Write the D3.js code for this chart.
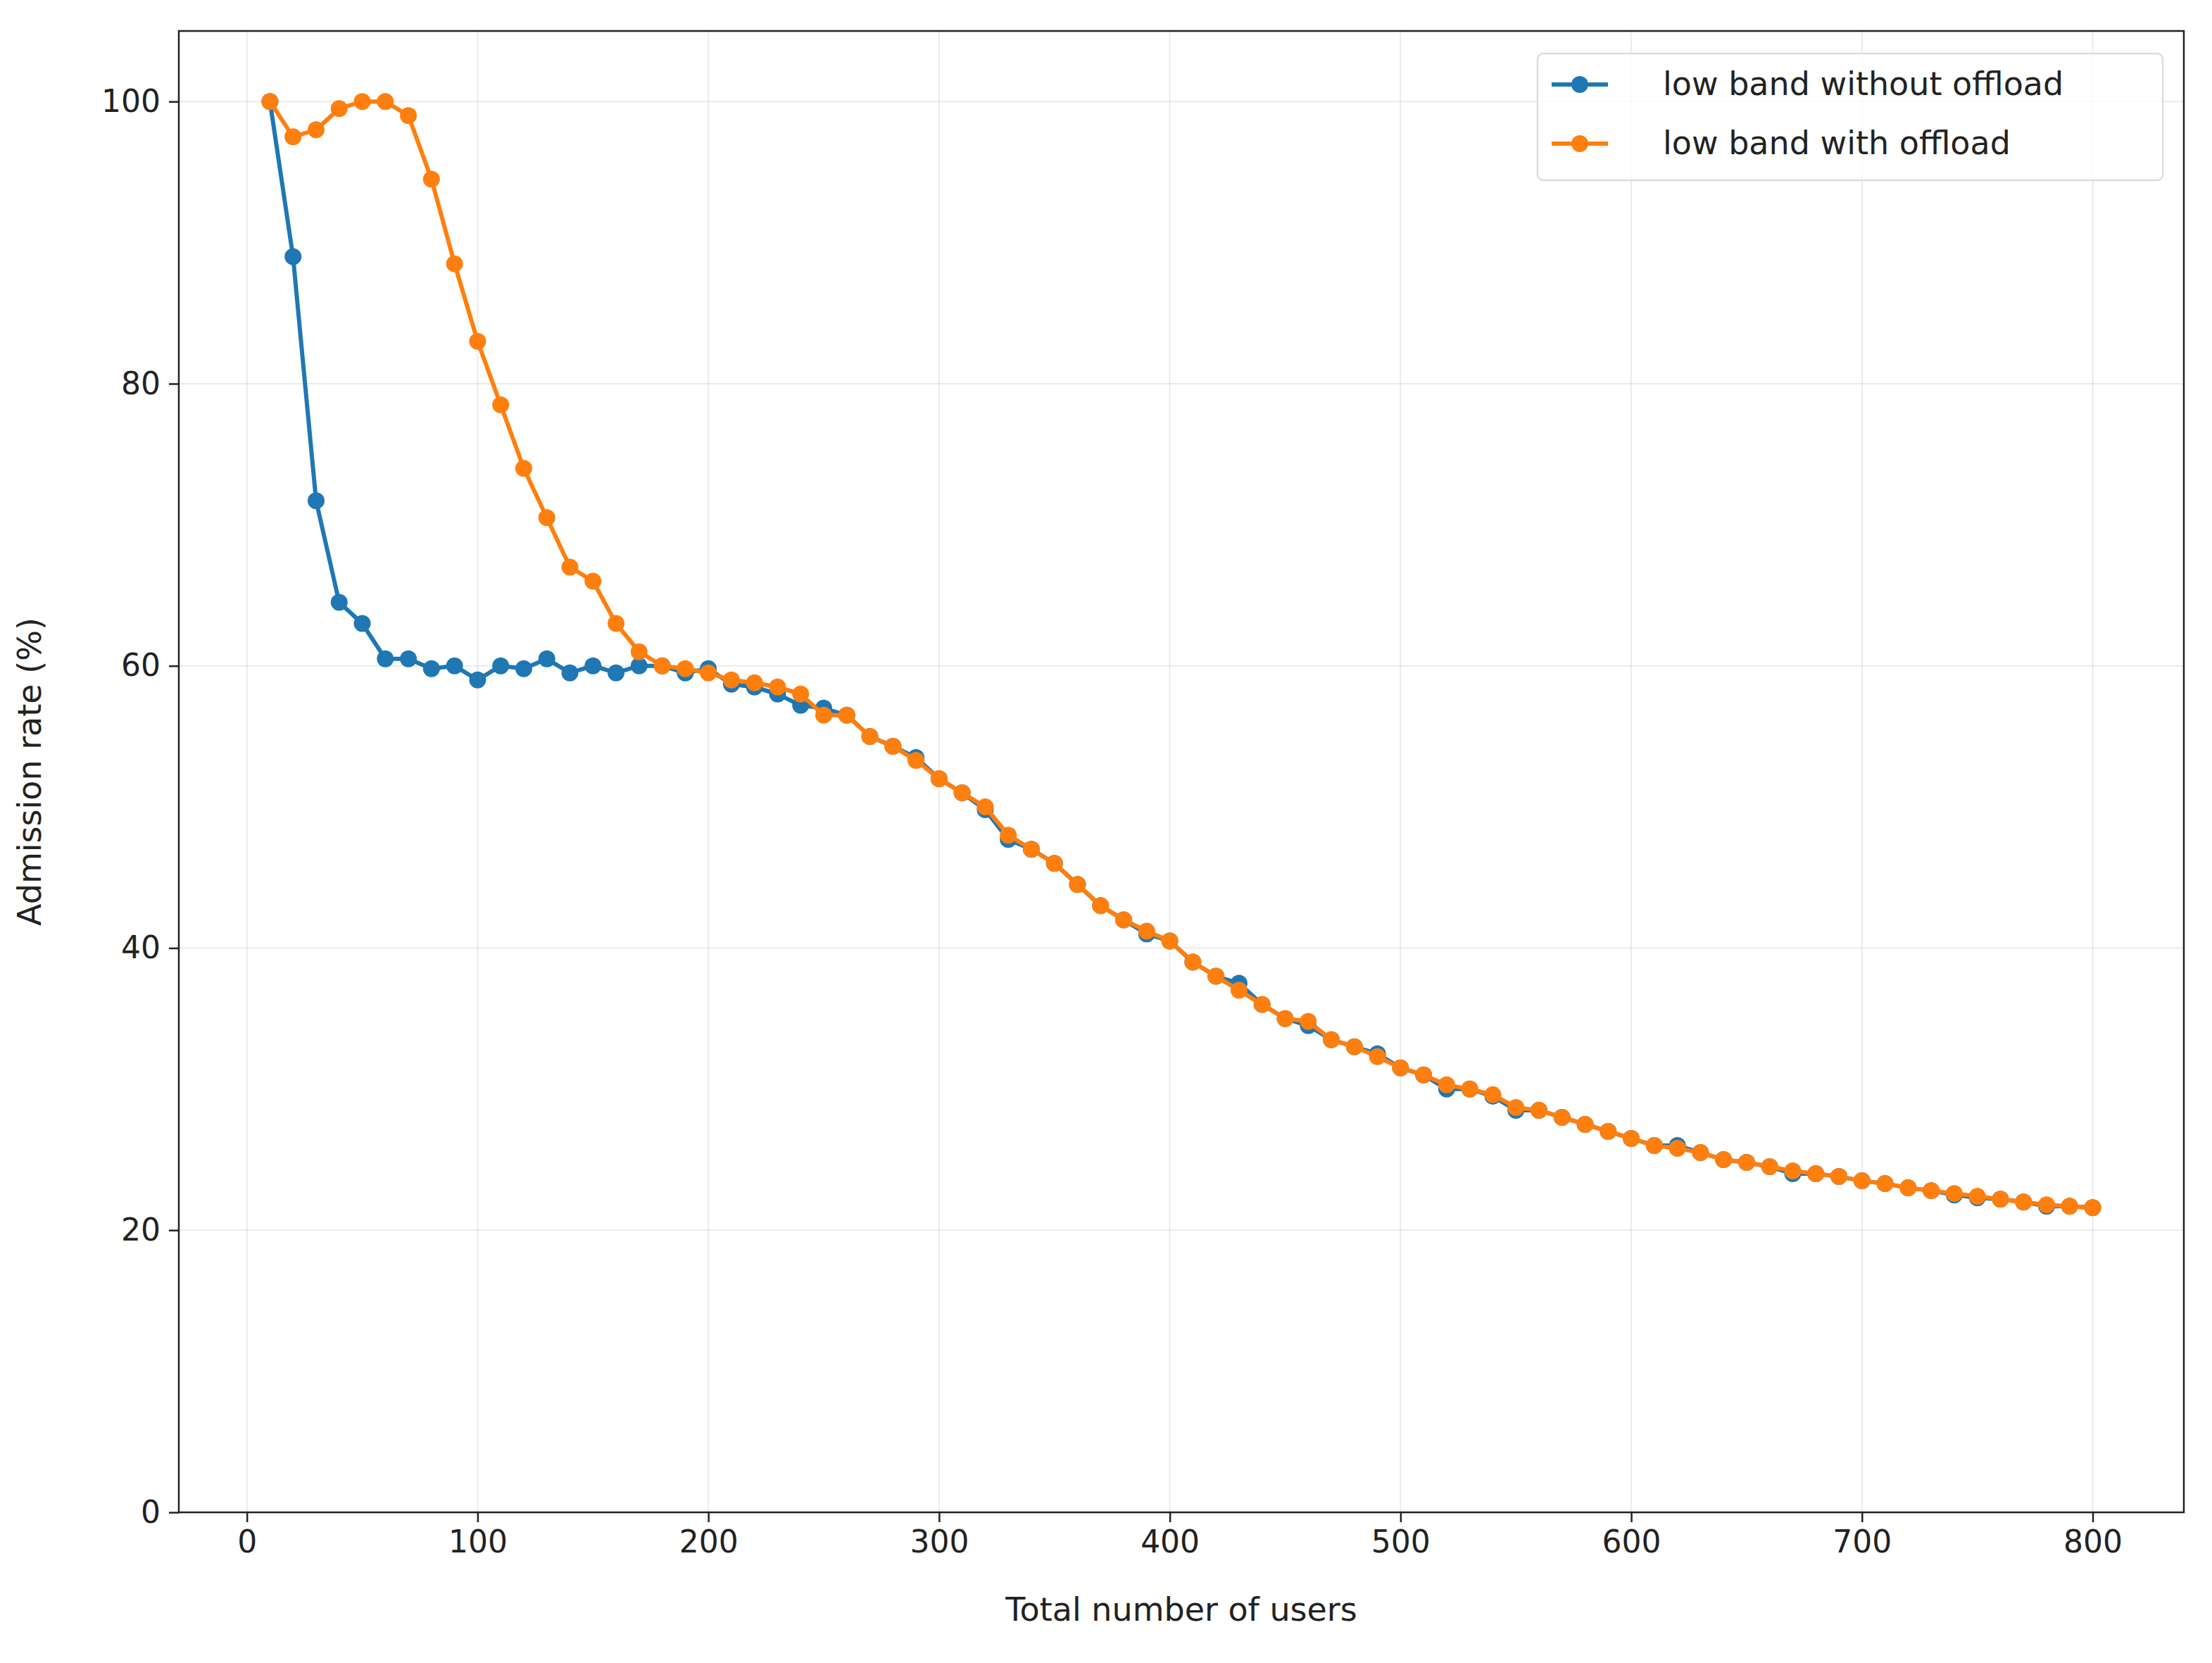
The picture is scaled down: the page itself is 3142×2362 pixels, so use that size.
<!DOCTYPE html>
<html><head><meta charset="utf-8">
<script src="https://cdn.jsdelivr.net/npm/d3@7"></script>
<style>body{margin:0;background:#fff}text{font-family:"DejaVu Sans",sans-serif;fill:#222}</style>
</head><body><div id="vis1" style="width:3142px;height:2362px"></div>
<script>
// data
const users = d3.range(10, 801, 10);
const withoutOffload = [100,89,71.7,64.5,63,60.5,60.5,59.8,60,59,60,59.8,60.5,59.5,60,59.5,60,60,59.5,59.8,
  58.7,58.5,58,57.2,57,56.5,55,54.3,53.5,52,51,49.8,47.7,47,46,44.5,43,42,41,40.5,
  39,38,37.5,36,35,34.5,33.5,33,32.5,31.5,31,30,30,29.5,28.5,28.5,28,27.5,27,26.5,
  26,26,25.5,25,24.8,24.5,24,24,23.8,23.5,23.3,23,22.8,22.5,22.3,22.2,22,21.7,21.7,21.6];
const withOffload = [100,97.5,98,99.5,100,100,99,94.5,88.5,83,78.5,74,70.5,67,66,63,61,60,59.8,59.5,
  59,58.8,58.5,58,56.5,56.5,55,54.3,53.3,52,51,50,48,47,46,44.5,43,42,41.2,40.5,
  39,38,37,36,35,34.8,33.5,33,32.3,31.5,31,30.3,30,29.6,28.7,28.5,28,27.5,27,26.5,
  26,25.8,25.5,25,24.8,24.5,24.2,24,23.8,23.5,23.3,23,22.8,22.6,22.4,22.2,22,21.8,21.7,21.6];
const xTicks = [0,100,200,300,400,500,600,700,800];
const yTicks = [0,20,40,60,80,100];
const seriesNames = ["low band without offload", "low band with offload"];
const colors = ["#1f77b4", "#ff7f0e"];

const margin = {top: 44, right: 40, bottom: 214, left: 254};
const WIDTH = 3142, HEIGHT = 2362;
const width = WIDTH - margin.left - margin.right;
const height = HEIGHT - margin.top - margin.bottom;

const svg = d3.select("#vis1").append("svg").attr("width", WIDTH).attr("height", HEIGHT);
const g = svg.append("g").attr("transform", `translate(${margin.left},${margin.top})`);

const x = d3.scaleLinear().domain([-29.5, 839.5]).range([0, width]);
const y = d3.scaleLinear().domain([0, 105]).range([height, 0]);

// grid
g.append("g").selectAll("line").data(xTicks).join("line")
  .attr("x1", d => x(d)).attr("x2", d => x(d)).attr("y1", 0).attr("y2", height)
  .attr("stroke", "#b0b0b0").attr("stroke-opacity", 0.25).attr("stroke-width", 2);
g.append("g").selectAll("line").data(yTicks).join("line")
  .attr("y1", d => y(d)).attr("y2", d => y(d)).attr("x1", 0).attr("x2", width)
  .attr("stroke", "#b0b0b0").attr("stroke-opacity", 0.25).attr("stroke-width", 2);

// axes
const xAxis = g.append("g").attr("transform", `translate(0,${height})`)
  .call(d3.axisBottom(x).tickValues(xTicks).tickSize(14).tickPadding(12));
const yAxis = g.append("g").call(d3.axisLeft(y).tickValues(yTicks).tickSize(14).tickPadding(12));
[xAxis, yAxis].forEach(a => {
  a.select(".domain").remove();
  a.selectAll("line").attr("stroke", "#222").attr("stroke-width", 2.5);
  a.selectAll("text").style("font-size", "44px").attr("fill", "#222");
});
g.append("rect").attr("width", width).attr("height", height)
  .attr("fill", "none").attr("stroke", "#222").attr("stroke-width", 2.5);

svg.append("text").attr("x", margin.left + width / 2).attr("y", HEIGHT - 60)
  .attr("text-anchor", "middle").style("font-size", "46px").text("Total number of users");
svg.append("text").attr("transform", `translate(58,${margin.top + height / 2}) rotate(-90)`)
  .attr("text-anchor", "middle").style("font-size", "46px").text("Admission rate (%)");

// series
const line = d3.line().x((d, i) => x(users[i])).y(d => y(d));
[withoutOffload, withOffload].forEach((s, k) => {
  g.append("path").datum(s).attr("d", line).attr("fill", "none")
    .attr("stroke", colors[k]).attr("stroke-width", 6);
  g.append("g").selectAll("circle").data(s).join("circle")
    .attr("cx", (d, i) => x(users[i])).attr("cy", d => y(d)).attr("r", 12).attr("fill", colors[k]);
});

// legend
const lg = svg.append("g").attr("transform", "translate(2184,76)");
lg.append("rect").attr("width", 888).attr("height", 180).attr("rx", 8)
  .attr("fill", "#fff").attr("fill-opacity", 0.8).attr("stroke", "#ddd").attr("stroke-width", 2.5);
seriesNames.forEach((n, k) => {
  const yy = 44 + k * 84;
  lg.append("line").attr("x1", 20).attr("x2", 100).attr("y1", yy).attr("y2", yy)
    .attr("stroke", colors[k]).attr("stroke-width", 6);
  lg.append("circle").attr("cx", 60).attr("cy", yy).attr("r", 12).attr("fill", colors[k]);
  lg.append("text").attr("x", 178).attr("y", yy + 15).style("font-size", "46px").text(n);
});
</script></body></html>
